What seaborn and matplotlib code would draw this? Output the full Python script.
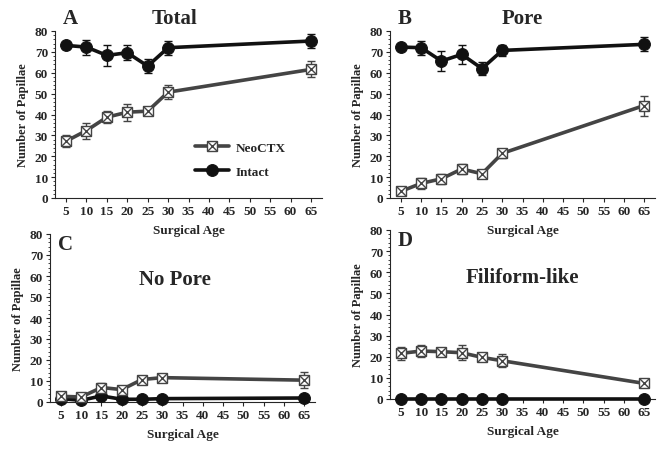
import numpy as np
import pandas as pd
import matplotlib
matplotlib.use("Agg")
import matplotlib.pyplot as plt
from matplotlib.ticker import MultipleLocator
from matplotlib.lines import Line2D
import seaborn as sns

ages = [5, 10, 15, 20, 25, 30, 65]

# panel A - Total
total_neo = [27.2, 32.3, 38.7, 41.1, 41.6, 50.7, 61.6]
total_neo_err = [3.0, 3.8, 3.0, 4.0, 1.5, 3.4, 3.8]
total_int = [73.1, 72.3, 68.3, 69.6, 63.2, 72.0, 75.2]
total_int_err = [1.5, 3.6, 5.0, 3.7, 3.3, 3.4, 3.4]

# panel B - Pore
pore_neo = [3.2, 7.0, 9.2, 13.9, 11.6, 21.4, 44.3]
pore_neo_err = [1.5, 2.5, 2.5, 2.5, 1.5, 2.0, 4.8]
pore_int = [72.3, 72.0, 65.6, 68.8, 62.0, 70.7, 73.6]
pore_int_err = [1.0, 3.4, 4.6, 4.4, 3.3, 2.5, 3.3]

# panel C - No Pore
nopore_neo = [2.7, 2.4, 6.9, 5.9, 10.7, 11.6, 10.4]
nopore_neo_err = [1.0, 1.0, 2.0, 1.5, 1.5, 1.5, 3.8]
nopore_int = [1.6, 0.8, 2.9, 1.3, 1.3, 1.6, 1.9]
nopore_int_err = [0.5, 0.5, 1.5, 0.5, 0.5, 0.5, 0.5]

# panel D - Filiform-like
fili_neo = [21.6, 22.7, 22.4, 21.9, 19.7, 18.1, 7.4]
fili_neo_err = [3.0, 3.0, 1.5, 3.5, 1.5, 3.0, 1.5]
fili_int = [0, 0, 0, 0, 0, 0, 0]
fili_int_err = [0, 0, 0, 0, 0, 0, 0]

sns.set_style("ticks")
plt.rcParams['font.family'] = ['Liberation Serif', 'DejaVu Serif']
plt.rcParams['font.weight'] = 'bold'

fig = plt.figure(figsize=(6.64, 4.52), dpi=100)
W, H = 664, 452

def box(l, r, t, b):
    return [l / W, (H - b) / H, (r - l) / W, (b - t) / H]

# letter, title, rect, series, title position (x, y in axes fraction)
panels = [
    ("A", "Total", box(55, 322, 32, 199), total_neo, total_neo_err, total_int, total_int_err, (0.446, 1.14)),
    ("B", "Pore", box(390, 655, 32, 199), pore_neo, pore_neo_err, pore_int, pore_int_err, (0.5, 1.14)),
    ("C", "No Pore", box(50, 315, 235, 403), nopore_neo, nopore_neo_err, nopore_int, nopore_int_err, (0.47, 0.79)),
    ("D", "Filiform-like", box(390, 655, 231, 400), fili_neo, fili_neo_err, fili_int, fili_int_err, (0.5, 0.78)),
]

neo_col = "#444444"
int_col = "#111111"

for letter, title, rect, neo, neo_e, itc, itc_e, tpos in panels:
    ax = fig.add_axes(rect)
    ax.patch.set_alpha(0)
    df = pd.DataFrame({"age": ages * 2,
                       "n": list(neo) + list(itc),
                       "grp": ["NeoCTX"] * 7 + ["Intact"] * 7})
    ax.errorbar(ages, neo, yerr=neo_e, fmt="none", ecolor=neo_col, elinewidth=1.0,
                capsize=3, capthick=1.0, zorder=2, clip_on=False)
    ax.errorbar(ages, itc, yerr=itc_e, fmt="none", ecolor=int_col, elinewidth=1.0,
                capsize=3, capthick=1.0, zorder=2, clip_on=False)
    sns.lineplot(data=df[df.grp == "Intact"], x="age", y="n", ax=ax, color=int_col,
                 lw=2.6, marker="o", markersize=8.5, markeredgecolor=int_col,
                 markerfacecolor=int_col, zorder=4, clip_on=False, label="Intact")
    sns.lineplot(data=df[df.grp == "NeoCTX"], x="age", y="n", ax=ax, color=neo_col,
                 lw=2.6, marker="s", markersize=7.5, markeredgecolor=neo_col,
                 markerfacecolor="white", markeredgewidth=1.0, zorder=5, clip_on=False,
                 label="NeoCTX")
    ax.plot(ages, neo, ls="none", marker="x", markersize=6.5, color=neo_col,
            markeredgewidth=1.0, zorder=6, clip_on=False)

    ax.set_xlim(2.3, 67.7)
    ax.set_ylim(0, 80)
    ax.set_xticks(range(5, 70, 5))
    ax.set_yticks(range(0, 90, 10))
    ax.yaxis.set_minor_locator(MultipleLocator(2))
    ax.tick_params(axis="both", labelsize=9.5, length=3, width=0.8, pad=2)
    ax.tick_params(axis="y", which="minor", length=1.5, width=0.6)
    for lab in ax.get_xticklabels() + ax.get_yticklabels():
        lab.set_fontweight("bold")
    sns.despine(ax=ax)
    for sp in ax.spines.values():
        sp.set_linewidth(0.8)
    ax.set_xlabel("Surgical Age", fontsize=9.5, fontweight="bold", labelpad=5)
    ax.set_ylabel("Number of Papillae", fontsize=9, fontweight="bold", labelpad=4)

    ax.text(0.03, 1.0 if tpos[1] < 1 else 1.14, letter, transform=ax.transAxes,
            fontsize=15, fontweight="bold", va="top", ha="left")
    ax.text(tpos[0], tpos[1], title, transform=ax.transAxes, fontsize=15,
            fontweight="bold", va="top", ha="center")

    if letter == "A":
        h, l = ax.get_legend_handles_labels()
        neo_h = (Line2D([], [], color=neo_col, lw=2.6, marker="s", markersize=7.5,
                        markerfacecolor="white", markeredgecolor=neo_col),
                 Line2D([], [], ls="none", marker="x", markersize=6.5, color=neo_col))
        ax.legend([neo_h, h[l.index("Intact")]], ["NeoCTX", "Intact"],
                  loc="center left", bbox_to_anchor=(0.48, 0.23), frameon=False,
                  handlelength=2.6, handletextpad=0.5, labelspacing=0.9,
                  prop={"weight": "bold", "size": 9.5})
    else:
        ax.get_legend().remove()

fig.savefig("out.png", dpi=100)
